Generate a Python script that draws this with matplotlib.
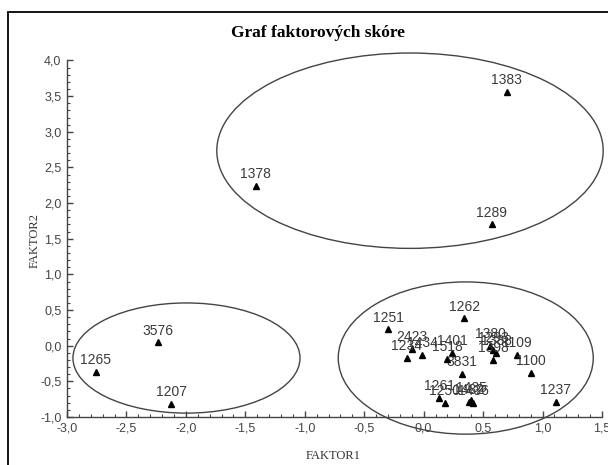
import matplotlib
matplotlib.use("Agg")
import matplotlib.pyplot as plt
from matplotlib.patches import Ellipse, Rectangle
from matplotlib.ticker import MultipleLocator, FuncFormatter

# skore jednotlivych pripadu
labels = ["1383", "1289", "1378", "3576", "1265", "1207",
          "1251", "1262", "2423", "1234", "1434", "1401", "1518", "3831",
          "1380", "1293", "1388", "1398", "1109", "1100", "1237",
          "1261", "1250", "1482", "1435", "1436"]
faktor1 = [0.70, 0.572, -1.413, -2.232, -2.759, -2.125,
           -0.298, 0.341, -0.098, -0.143, -0.012, 0.238, 0.196, 0.325,
           0.558, 0.583, 0.608, 0.583, 0.782, 0.90, 1.113,
           0.131, 0.179, 0.381, 0.398, 0.417]
faktor2 = [3.56, 1.70, 2.24, 0.045, -0.368, -0.82,
           0.228, 0.382, -0.049, -0.171, -0.133, -0.105, -0.19, -0.40,
           -0.007, -0.063, -0.105, -0.204, -0.133, -0.376, -0.789,
           -0.733, -0.803, -0.789, -0.765, -0.798]

# shluky (stred x, stred y, sirka, vyska)
shluk_x = [-0.115, 0.354, -1.995]
shluk_y = [2.735, -0.173, -0.173]
shluk_w = [3.25, 2.145, 1.91]
shluk_h = [2.74, 2.135, 1.545]

fig = plt.figure(figsize=(6.08, 4.65), dpi=100)
ax = fig.add_axes([67 / 608, 48 / 465, 535 / 608, 356.5 / 465])

ax.plot(faktor1, faktor2, linestyle="none", marker="^", markersize=4,
        color="black")
for lab, x, y in zip(labels, faktor1, faktor2):
    ax.annotate(lab, (x, y), xytext=(0, 8.5), textcoords="offset points",
                ha="center", va="center", fontsize=10, color="#3a3a3a",
                family="Liberation Sans")

for cx, cy, w, h in zip(shluk_x, shluk_y, shluk_w, shluk_h):
    e = Ellipse((cx, cy), w, h, fill=False, edgecolor="#444444", lw=1.0,
                clip_on=False)
    ax.add_patch(e)

ax.set_xlim(-3.0, 1.5)
ax.set_ylim(-1.0, 4.0)
ax.xaxis.set_major_locator(MultipleLocator(0.5))
ax.xaxis.set_minor_locator(MultipleLocator(0.1))
ax.yaxis.set_major_locator(MultipleLocator(0.5))
ax.yaxis.set_minor_locator(MultipleLocator(0.1))
fmt = FuncFormatter(lambda v, p: ("%.1f" % v).replace(".", ",").replace("-0,0", "0,0"))
ax.xaxis.set_major_formatter(fmt)
ax.yaxis.set_major_formatter(fmt)
ax.tick_params(which="major", direction="in", length=4, width=1, color="#444444",
               labelsize=9, labelcolor="#444444", pad=4)
ax.tick_params(which="minor", direction="in", length=2, width=0.8, color="#444444")
for t in ax.get_xticklabels() + ax.get_yticklabels():
    t.set_family("Liberation Sans")

for s in ["top", "right"]:
    ax.spines[s].set_visible(False)
for s in ["left", "bottom"]:
    ax.spines[s].set_color("#444444")
    ax.spines[s].set_linewidth(1.0)

fig.text(0.523, 1 - 33 / 465, "Graf faktorových skóre", ha="center", va="center",
         fontsize=12.5, fontweight="bold", family="Liberation Serif")
fig.text(333 / 608, 1 - 456 / 465, "FAKTOR1", ha="center", va="center",
         fontsize=9, family="Liberation Serif", color="#333333")
fig.text(35 / 608, 1 - 240 / 465, "FAKTOR2", ha="center", va="center",
         fontsize=9, family="Liberation Serif", color="#333333", rotation=90)

# ramecek okolo grafu
fig.patches.append(Rectangle((8 / 608, -0.05), 1.2, 1.05 - 12 / 465,
                             transform=fig.transFigure, fill=False,
                             edgecolor="black", lw=1.3))

fig.savefig("out.png", dpi=100)
